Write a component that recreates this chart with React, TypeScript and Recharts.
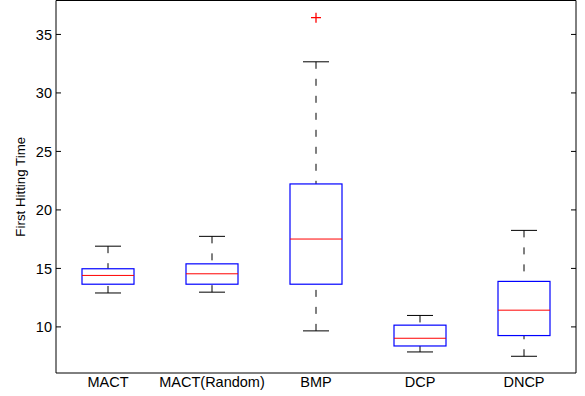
import React from 'react';
import { ComposedChart, Bar, Scatter, XAxis, YAxis, ReferenceLine } from 'recharts';

const categories = ['MACT', 'MACT(Random)', 'BMP', 'DCP', 'DNCP'];
const lowerWhisker = [12.9, 12.97, 9.66, 7.86, 7.49];
const q1 = [13.65, 13.65, 13.65, 8.37, 9.26];
const median = [14.4, 14.54, 17.51, 9.03, 11.43];
const q3 = [14.97, 15.39, 22.22, 10.15, 13.89];
const upperWhisker = [16.9, 17.74, 32.66, 10.98, 18.25];
const outliers: (number | null)[] = [null, null, 36.43, null, null];
const yTicks = [10, 15, 20, 25, 30, 35];
const yDomain = [6.06, 37.9];

const data = categories.map((name, i) => ({
  name,
  lo: lowerWhisker[i],
  q1: q1[i],
  med: median[i],
  q3: q3[i],
  hi: upperWhisker[i],
  outlier: outliers[i],
}));

const FONT = '"Liberation Sans", Arial, Helvetica, sans-serif';

const BoxShape = (props: any) => {
  const { x, y, width, height, payload } = props;
  if (payload == null || !isFinite(y) || !isFinite(height)) return null;
  const { lo, hi } = payload;
  const py = (v: number) => y + (height * (hi - v)) / (hi - lo);
  const cx = x + width / 2;
  const capHalf = width / 4;
  const yq1 = py(payload.q1);
  const yq3 = py(payload.q3);
  const ymed = py(payload.med);
  const yhi = py(hi);
  const ylo = py(lo);
  return (
    <g>
      <line x1={cx} x2={cx} y1={yhi} y2={yq3} stroke="#000" strokeWidth={1} strokeDasharray="7 10" />
      <line x1={cx} x2={cx} y1={ylo} y2={yq1} stroke="#000" strokeWidth={1} strokeDasharray="7 10" />
      <line x1={cx - capHalf} x2={cx + capHalf} y1={yhi} y2={yhi} stroke="#000" strokeWidth={1} />
      <line x1={cx - capHalf} x2={cx + capHalf} y1={ylo} y2={ylo} stroke="#000" strokeWidth={1} />
      <rect x={x} y={yq3} width={width} height={yq1 - yq3} fill="none" stroke="#0000ff" strokeWidth={1.2} />
      <line x1={x} x2={x + width} y1={ymed} y2={ymed} stroke="#ff0000" strokeWidth={1} />
    </g>
  );
};

const PlusShape = (props: any) => {
  const { cx, cy, payload } = props;
  if (!payload || payload.outlier == null || !isFinite(cx) || !isFinite(cy)) return null;
  return (
    <g>
      <line x1={cx - 5} x2={cx + 5} y1={cy} y2={cy} stroke="#ff0000" strokeWidth={1.3} />
      <line x1={cx} x2={cx} y1={cy - 5} y2={cy + 5} stroke="#ff0000" strokeWidth={1.3} />
    </g>
  );
};

const LeftTick = (props: any) => {
  const { x, y, payload } = props;
  return (
    <g>
      <line x1={x} x2={x + 5} y1={y} y2={y} stroke="#000" strokeWidth={1} />
      <text x={x - 4} y={y} dy="0.36em" textAnchor="end" fontFamily={FONT} fontSize={14.5} fill="#000">
        {payload.value}
      </text>
    </g>
  );
};

const RightTick = (props: any) => {
  const { x, y } = props;
  return <line x1={x - 5} x2={x} y1={y} y2={y} stroke="#000" strokeWidth={1} />;
};

const BottomTick = (props: any) => {
  const { x, y, payload } = props;
  return (
    <text x={x} y={y + 14} textAnchor="middle" fontFamily={FONT} fontSize={14.5} fill="#000">
      {payload.value}
    </text>
  );
};

const YLabel = (props: any) => {
  const vb = props.viewBox || {};
  const cy = (vb.y ?? 0) + (vb.height ?? 0) / 2;
  const lx = (vb.x ?? 0) + 20;
  return (
    <text
      x={lx}
      y={cy}
      transform={`rotate(-90 ${lx} ${cy})`}
      textAnchor="middle"
      dominantBaseline="central"
      fontFamily={FONT}
      fontSize={13.3}
      fill="#000"
    >
      First Hitting Time
    </text>
  );
};

export default function App() {
  return (
    <div style={{ position: 'absolute', left: 0, top: 0, width: 585, height: 396, background: '#fff' }}>
      <ComposedChart
        width={585}
        height={396}
        data={data}
        margin={{ top: 0.5, right: 0, bottom: 0, left: 0 }}
      >
        <XAxis
          dataKey="name"
          type="category"
          tickLine={false}
          tickSize={0}
          tickMargin={0}
          tick={<BottomTick />}
          axisLine={{ stroke: '#000', strokeWidth: 1 }}
          height={23}
        />
        <YAxis
          yAxisId="left"
          orientation="left"
          type="number"
          domain={yDomain}
          ticks={yTicks}
          allowDataOverflow
          width={56}
          tickLine={false}
          tickSize={0}
          tickMargin={0}
          tick={<LeftTick />}
          axisLine={{ stroke: '#000', strokeWidth: 1 }}
          label={<YLabel />}
        />
        <YAxis
          yAxisId="right"
          orientation="right"
          type="number"
          domain={yDomain}
          ticks={yTicks}
          allowDataOverflow
          width={9}
          tickLine={false}
          tickSize={0}
          tickMargin={0}
          tick={<RightTick />}
          axisLine={{ stroke: '#000', strokeWidth: 1 }}
        />
        <ReferenceLine yAxisId="left" y={yDomain[1]} stroke="#000" strokeWidth={1} ifOverflow="visible" />
        <Bar
          yAxisId="left"
          dataKey={(d: any) => [d.lo, d.hi]}
          barSize={52}
          shape={<BoxShape />}
          isAnimationActive={false}
        />
        <Scatter yAxisId="left" dataKey="outlier" shape={<PlusShape />} isAnimationActive={false} />
      </ComposedChart>
    </div>
  );
}
